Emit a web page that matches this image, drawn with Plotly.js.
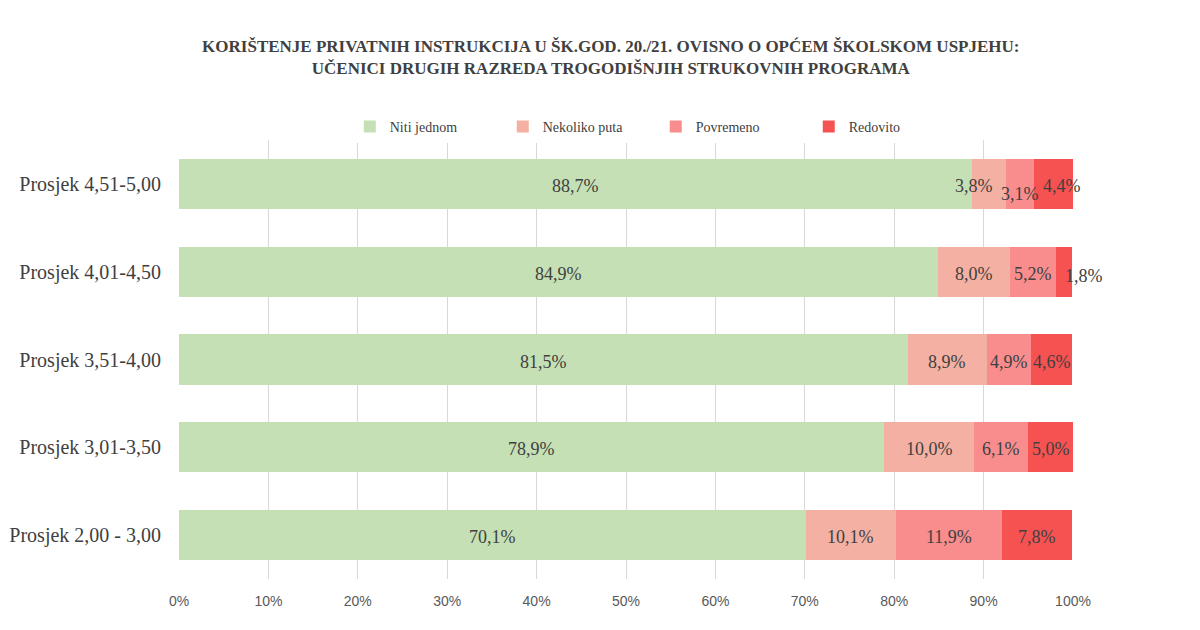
<!DOCTYPE html>
<html>
<head>
<meta charset="utf-8">
<script src="https://cdn.plot.ly/plotly-3.0.1.min.js"></script>
<style>html,body{margin:0;padding:0;background:#fff;}#chart{width:1200px;height:630px;}</style>
</head>
<body>
<div id="chart"></div>
<script>
const categories = ["Prosjek 4,51-5,00", "Prosjek 4,01-4,50", "Prosjek 3,51-4,00", "Prosjek 3,01-3,50", "Prosjek 2,00 - 3,00"];
const seriesNames = ["Niti jednom", "Nekoliko puta", "Povremeno", "Redovito"];
const nitiJednom = [88.7, 84.9, 81.5, 78.9, 70.1];
const nekolikoPuta = [3.8, 8.0, 8.9, 10.0, 10.1];
const povremeno = [3.1, 5.2, 4.9, 6.1, 11.9];
const redovito = [4.4, 1.8, 4.6, 5.0, 7.8];
const colors = ["#C5E0B4", "#F4B0A2", "#F98D8D", "#F65252"];
const xTicks = [0, 10, 20, 30, 40, 50, 60, 70, 80, 90, 100];

// label nudges for crowded small segments (series index, category index) -> pixel shifts
const labelShifts = {
  "1,0": {x: -15, y: -2},
  "2,0": {x: 0, y: -10},
  "3,0": {x: 9, y: -2},
  "3,1": {x: 20, y: -4}
};

const series = [nitiJednom, nekolikoPuta, povremeno, redovito];
const fmt = v => v.toFixed(1).replace('.', ',') + '%';
const traces = series.map((vals, i) => ({
  type: 'bar',
  orientation: 'h',
  name: seriesNames[i],
  y: categories,
  x: vals,
  textposition: 'none',
  marker: {color: colors[i], line: {width: 0}},
  hoverinfo: 'skip'
}));

const annotations = [];
categories.forEach((cat, j) => {
  let start = 0;
  series.forEach((vals, i) => {
    const v = vals[j];
    const sh = labelShifts[i + ',' + j] || {x: 0, y: -2};
    annotations.push({
      x: start + v / 2, y: cat, xref: 'x', yref: 'y',
      text: fmt(v), showarrow: false,
      xanchor: 'center', yanchor: 'middle',
      xshift: sh.x, yshift: sh.y,
      font: {family: 'Liberation Serif, serif', size: 18, color: '#404040'}
    });
    start += v;
  });
});

const layout = {
  width: 1200, height: 630,
  paper_bgcolor: '#fff', plot_bgcolor: '#fff',
  margin: {l: 179, r: 127, t: 140, b: 51},
  barmode: 'stack',
  bargap: 0.43,
  title: {
    text: '<b>KORIŠTENJE PRIVATNIH INSTRUKCIJA U ŠK.GOD. 20./21. OVISNO O OPĆEM ŠKOLSKOM USPJEHU:<br>UČENICI DRUGIH RAZREDA TROGODIŠNJIH STRUKOVNIH PROGRAMA</b>',
    font: {family: 'Liberation Serif, serif', size: 17, color: '#404040'},
    x: 0.483, xanchor: 'center', xref: 'paper',
    y: 0.9175, yanchor: 'middle', yref: 'container'
  },
  showlegend: true,
  legend: {
    orientation: 'h', x: 0.191, xanchor: 'left', y: 1.03, yanchor: 'middle',
    font: {family: 'Liberation Serif, serif', size: 14, color: '#404040'},
    entrywidth: 108, entrywidthmode: 'pixels',
    itemclick: false, itemdoubleclick: false,
    traceorder: 'normal'
  },
  annotations: annotations,
  xaxis: {
    range: [0, 100],
    tickvals: xTicks,
    ticktext: xTicks.map(v => v + '%'),
    showgrid: true, gridcolor: '#D9D9D9', gridwidth: 1,
    zeroline: false, showline: false,
    ticks: '', ticklabelstandoff: 12,
    tickfont: {family: 'Liberation Sans Narrow, Liberation Sans, sans-serif', size: 14, color: '#595959'},
    fixedrange: true
  },
  yaxis: {
    autorange: 'reversed',
    type: 'category',
    showgrid: false, zeroline: false, showline: false,
    ticks: '', ticklabelstandoff: 17,
    tickfont: {family: 'Liberation Serif, serif', size: 20, color: '#404040'},
    fixedrange: true
  },
  font: {family: 'Liberation Serif, serif', color: '#404040'}
};

Plotly.newPlot('chart', traces, layout, {displayModeBar: false, staticPlot: true});
</script>
</body>
</html>
